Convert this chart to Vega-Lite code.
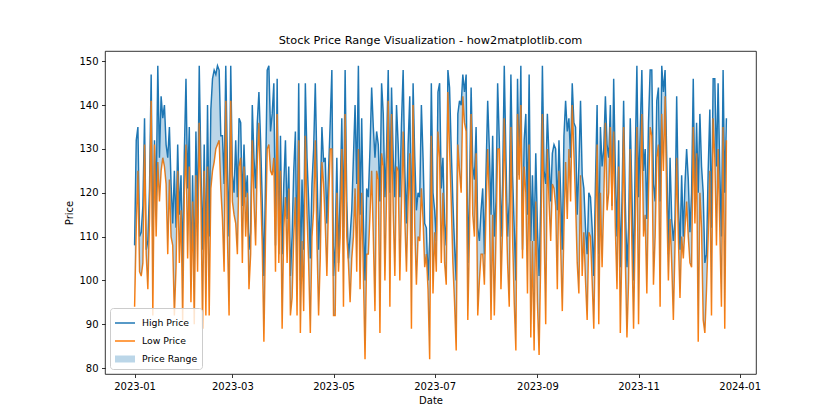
{
  "$schema": "https://vega.github.io/schema/vega-lite/v6.json",
  "width": 651,
  "height": 323,
  "autosize": {"type": "none"},
  "padding": {"left": 105, "top": 51, "right": 84, "bottom": 46},
  "background": "white",
  "title": {"text": "Stock Price Range Visualization - how2matplotlib.com", "fontSize": 11.3, "fontWeight": "normal", "font": "DejaVu Sans", "color": "black", "offset": 5},
  "config": {
    "view": {"stroke": "black", "strokeWidth": 0.8},
    "axis": {"domain": false, "grid": false, "tickColor": "black", "tickSize": 3.5, "tickWidth": 0.8, "labelColor": "black", "labelFont": "DejaVu Sans", "labelFontSize": 10, "labelPadding": 3.5, "titleFont": "DejaVu Sans", "titleFontSize": 10, "titleFontWeight": "normal", "titleColor": "black"}
  },
  "data": {"values": [
    {"d":"2023-01-01","h":108,"l":94},{"d":"2023-01-02","h":132,"l":112},{"d":"2023-01-03","h":135,"l":125},{"d":"2023-01-04","h":110,"l":102},{"d":"2023-01-05","h":111,"l":101},{"d":"2023-01-06","h":117,"l":104},{"d":"2023-01-07","h":137,"l":131},{"d":"2023-01-08","h":107,"l":106},{"d":"2023-01-09","h":109,"l":98},{"d":"2023-01-10","h":121,"l":114},{"d":"2023-01-11","h":147,"l":141},{"d":"2023-01-12","h":107,"l":92},{"d":"2023-01-13","h":132,"l":131},{"d":"2023-01-14","h":118,"l":110},{"d":"2023-01-15","h":149,"l":127},{"d":"2023-01-16","h":128,"l":118},{"d":"2023-01-17","h":142,"l":125},{"d":"2023-01-18","h":137,"l":128},{"d":"2023-01-19","h":140,"l":126},{"d":"2023-01-20","h":131,"l":122},{"d":"2023-01-21","h":128,"l":106},{"d":"2023-01-22","h":135,"l":123},{"d":"2023-01-23","h":122,"l":110},{"d":"2023-01-24","h":113,"l":108},{"d":"2023-01-25","h":125,"l":92},{"d":"2023-01-26","h":112,"l":103},{"d":"2023-01-27","h":131,"l":125},{"d":"2023-01-28","h":115,"l":104},{"d":"2023-01-29","h":124,"l":116},{"d":"2023-01-30","h":103,"l":91},{"d":"2023-01-31","h":129,"l":120},
    {"d":"2023-02-01","h":146,"l":131},{"d":"2023-02-02","h":121,"l":105},{"d":"2023-02-03","h":135,"l":126},{"d":"2023-02-04","h":101,"l":95},{"d":"2023-02-05","h":124,"l":118},{"d":"2023-02-06","h":101,"l":90},{"d":"2023-02-07","h":134,"l":124},{"d":"2023-02-08","h":113,"l":102},{"d":"2023-02-09","h":149,"l":136},{"d":"2023-02-10","h":126,"l":119},{"d":"2023-02-11","h":107,"l":89},{"d":"2023-02-12","h":131,"l":125},{"d":"2023-02-13","h":104,"l":92},{"d":"2023-02-14","h":140,"l":126},{"d":"2023-02-15","h":110,"l":92},{"d":"2023-02-16","h":139,"l":121},{"d":"2023-02-17","h":146,"l":125},{"d":"2023-02-18","h":148,"l":127},{"d":"2023-02-19","h":147,"l":130},{"d":"2023-02-20","h":149,"l":131},{"d":"2023-02-21","h":148,"l":132},{"d":"2023-02-22","h":133,"l":121},{"d":"2023-02-23","h":133,"l":114},{"d":"2023-02-24","h":122,"l":102},{"d":"2023-02-25","h":149,"l":141},{"d":"2023-02-26","h":126,"l":110},{"d":"2023-02-27","h":110,"l":92},{"d":"2023-02-28","h":149,"l":141},
    {"d":"2023-03-01","h":124,"l":118},{"d":"2023-03-02","h":120,"l":115},{"d":"2023-03-03","h":132,"l":113},{"d":"2023-03-04","h":119,"l":106},{"d":"2023-03-05","h":137,"l":126},{"d":"2023-03-06","h":136,"l":128},{"d":"2023-03-07","h":117,"l":104},{"d":"2023-03-08","h":131,"l":126},{"d":"2023-03-09","h":119,"l":110},{"d":"2023-03-10","h":124,"l":120},{"d":"2023-03-11","h":107,"l":98},{"d":"2023-03-12","h":111,"l":106},{"d":"2023-03-13","h":140,"l":132},{"d":"2023-03-14","h":128,"l":118},{"d":"2023-03-15","h":121,"l":108},{"d":"2023-03-16","h":136,"l":127},{"d":"2023-03-17","h":143,"l":136},{"d":"2023-03-18","h":132,"l":121},{"d":"2023-03-19","h":118,"l":108},{"d":"2023-03-20","h":101,"l":86},{"d":"2023-03-21","h":123,"l":111},{"d":"2023-03-22","h":148,"l":130},{"d":"2023-03-23","h":149,"l":131},{"d":"2023-03-24","h":134,"l":125},{"d":"2023-03-25","h":138,"l":124},{"d":"2023-03-26","h":145,"l":128},{"d":"2023-03-27","h":108,"l":102},{"d":"2023-03-28","h":146,"l":138},{"d":"2023-03-29","h":106,"l":104},{"d":"2023-03-30","h":133,"l":125},{"d":"2023-03-31","h":106,"l":89},
    {"d":"2023-04-01","h":122,"l":112},{"d":"2023-04-02","h":132,"l":119},{"d":"2023-04-03","h":114,"l":104},{"d":"2023-04-04","h":126,"l":121},{"d":"2023-04-05","h":101,"l":92},{"d":"2023-04-06","h":110,"l":96},{"d":"2023-04-07","h":125,"l":110},{"d":"2023-04-08","h":134,"l":119},{"d":"2023-04-09","h":104,"l":92},{"d":"2023-04-10","h":145,"l":132},{"d":"2023-04-11","h":100,"l":88},{"d":"2023-04-12","h":123,"l":109},{"d":"2023-04-13","h":107,"l":93},{"d":"2023-04-14","h":145,"l":133},{"d":"2023-04-15","h":128,"l":115},{"d":"2023-04-16","h":118,"l":104},{"d":"2023-04-17","h":105,"l":88},{"d":"2023-04-18","h":122,"l":110},{"d":"2023-04-19","h":130,"l":116},{"d":"2023-04-20","h":145,"l":132},{"d":"2023-04-21","h":126,"l":109},{"d":"2023-04-22","h":107,"l":92},{"d":"2023-04-23","h":118,"l":105},{"d":"2023-04-24","h":135,"l":127},{"d":"2023-04-25","h":127,"l":122},{"d":"2023-04-26","h":128,"l":113},{"d":"2023-04-27","h":113,"l":101},{"d":"2023-04-28","h":125,"l":118},{"d":"2023-04-29","h":136,"l":130},{"d":"2023-04-30","h":148,"l":130},
    {"d":"2023-05-01","h":101,"l":92},{"d":"2023-05-02","h":108,"l":92},{"d":"2023-05-03","h":128,"l":120},{"d":"2023-05-04","h":104,"l":102},{"d":"2023-05-05","h":120,"l":110},{"d":"2023-05-06","h":137,"l":130},{"d":"2023-05-07","h":112,"l":94},{"d":"2023-05-08","h":148,"l":138},{"d":"2023-05-09","h":118,"l":110},{"d":"2023-05-10","h":105,"l":104},{"d":"2023-05-11","h":110,"l":95},{"d":"2023-05-12","h":116,"l":105},{"d":"2023-05-13","h":128,"l":110},{"d":"2023-05-14","h":140,"l":121},{"d":"2023-05-15","h":122,"l":102},{"d":"2023-05-16","h":149,"l":130},{"d":"2023-05-17","h":115,"l":98},{"d":"2023-05-18","h":137,"l":120},{"d":"2023-05-19","h":114,"l":102},{"d":"2023-05-20","h":100,"l":82},{"d":"2023-05-21","h":121,"l":106},{"d":"2023-05-22","h":119,"l":106},{"d":"2023-05-23","h":130,"l":115},{"d":"2023-05-24","h":144,"l":125},{"d":"2023-05-25","h":135,"l":110},{"d":"2023-05-26","h":128,"l":93},{"d":"2023-05-27","h":134,"l":125},{"d":"2023-05-28","h":131,"l":123},{"d":"2023-05-29","h":118,"l":88},{"d":"2023-05-30","h":145,"l":129},{"d":"2023-05-31","h":138,"l":126},
    {"d":"2023-06-01","h":119,"l":100},{"d":"2023-06-02","h":130,"l":120},{"d":"2023-06-03","h":148,"l":141},{"d":"2023-06-04","h":120,"l":94},{"d":"2023-06-05","h":144,"l":138},{"d":"2023-06-06","h":128,"l":116},{"d":"2023-06-07","h":119,"l":101},{"d":"2023-06-08","h":140,"l":126},{"d":"2023-06-09","h":131,"l":125},{"d":"2023-06-10","h":119,"l":100},{"d":"2023-06-11","h":136,"l":118},{"d":"2023-06-12","h":148,"l":134},{"d":"2023-06-13","h":125,"l":114},{"d":"2023-06-14","h":113,"l":102},{"d":"2023-06-15","h":131,"l":118},{"d":"2023-06-16","h":142,"l":129},{"d":"2023-06-17","h":108,"l":89},{"d":"2023-06-18","h":145,"l":140},{"d":"2023-06-19","h":128,"l":112},{"d":"2023-06-20","h":116,"l":99},{"d":"2023-06-21","h":120,"l":110},{"d":"2023-06-22","h":119,"l":109},{"d":"2023-06-23","h":140,"l":121},{"d":"2023-06-24","h":128,"l":114},{"d":"2023-06-25","h":113,"l":103},{"d":"2023-06-26","h":112,"l":106},{"d":"2023-06-27","h":100,"l":98},{"d":"2023-06-28","h":109,"l":82},{"d":"2023-06-29","h":145,"l":133},{"d":"2023-06-30","h":120,"l":97},
    {"d":"2023-07-01","h":116,"l":111},{"d":"2023-07-02","h":109,"l":102},{"d":"2023-07-03","h":143,"l":134},{"d":"2023-07-04","h":145,"l":128},{"d":"2023-07-05","h":121,"l":104},{"d":"2023-07-06","h":128,"l":120},{"d":"2023-07-07","h":113,"l":104},{"d":"2023-07-08","h":108,"l":99},{"d":"2023-07-09","h":148,"l":143},{"d":"2023-07-10","h":144,"l":130},{"d":"2023-07-11","h":130,"l":118},{"d":"2023-07-12","h":118,"l":104},{"d":"2023-07-13","h":108,"l":95},{"d":"2023-07-14","h":100,"l":84},{"d":"2023-07-15","h":138,"l":131},{"d":"2023-07-16","h":141,"l":125},{"d":"2023-07-17","h":140,"l":120},{"d":"2023-07-18","h":147,"l":142},{"d":"2023-07-19","h":143,"l":136},{"d":"2023-07-20","h":147,"l":134},{"d":"2023-07-21","h":104,"l":91},{"d":"2023-07-22","h":120,"l":110},{"d":"2023-07-23","h":144,"l":138},{"d":"2023-07-24","h":126,"l":115},{"d":"2023-07-25","h":123,"l":110},{"d":"2023-07-26","h":135,"l":129},{"d":"2023-07-27","h":112,"l":92},{"d":"2023-07-28","h":109,"l":100},{"d":"2023-07-29","h":116,"l":106},{"d":"2023-07-30","h":121,"l":106},{"d":"2023-07-31","h":106,"l":99},
    {"d":"2023-08-01","h":125,"l":116},{"d":"2023-08-02","h":141,"l":130},{"d":"2023-08-03","h":130,"l":118},{"d":"2023-08-04","h":115,"l":91},{"d":"2023-08-05","h":133,"l":115},{"d":"2023-08-06","h":110,"l":92},{"d":"2023-08-07","h":118,"l":110},{"d":"2023-08-08","h":145,"l":130},{"d":"2023-08-09","h":132,"l":130},{"d":"2023-08-10","h":110,"l":98},{"d":"2023-08-11","h":122,"l":112},{"d":"2023-08-12","h":149,"l":137},{"d":"2023-08-13","h":128,"l":118},{"d":"2023-08-14","h":110,"l":104},{"d":"2023-08-15","h":118,"l":94},{"d":"2023-08-16","h":147,"l":135},{"d":"2023-08-17","h":124,"l":110},{"d":"2023-08-18","h":112,"l":95},{"d":"2023-08-19","h":100,"l":84},{"d":"2023-08-20","h":146,"l":138},{"d":"2023-08-21","h":124,"l":123},{"d":"2023-08-22","h":149,"l":140},{"d":"2023-08-23","h":107,"l":105},{"d":"2023-08-24","h":132,"l":126},{"d":"2023-08-25","h":138,"l":120},{"d":"2023-08-26","h":115,"l":97},{"d":"2023-08-27","h":147,"l":131},{"d":"2023-08-28","h":109,"l":87},{"d":"2023-08-29","h":124,"l":109},{"d":"2023-08-30","h":109,"l":84},{"d":"2023-08-31","h":129,"l":118},
    {"d":"2023-09-01","h":112,"l":95},{"d":"2023-09-02","h":101,"l":83},{"d":"2023-09-03","h":118,"l":105},{"d":"2023-09-04","h":149,"l":138},{"d":"2023-09-05","h":125,"l":112},{"d":"2023-09-06","h":122,"l":90},{"d":"2023-09-07","h":138,"l":130},{"d":"2023-09-08","h":128,"l":118},{"d":"2023-09-09","h":118,"l":109},{"d":"2023-09-10","h":129,"l":122},{"d":"2023-09-11","h":131,"l":121},{"d":"2023-09-12","h":130,"l":117},{"d":"2023-09-13","h":116,"l":98},{"d":"2023-09-14","h":132,"l":125},{"d":"2023-09-15","h":120,"l":108},{"d":"2023-09-16","h":107,"l":93},{"d":"2023-09-17","h":133,"l":112},{"d":"2023-09-18","h":141,"l":127},{"d":"2023-09-19","h":134,"l":114},{"d":"2023-09-20","h":137,"l":130},{"d":"2023-09-21","h":128,"l":118},{"d":"2023-09-22","h":145,"l":140},{"d":"2023-09-23","h":136,"l":129},{"d":"2023-09-24","h":135,"l":118},{"d":"2023-09-25","h":115,"l":104},{"d":"2023-09-26","h":126,"l":97},{"d":"2023-09-27","h":141,"l":124},{"d":"2023-09-28","h":124,"l":101},{"d":"2023-09-29","h":121,"l":111},{"d":"2023-09-30","h":112,"l":100},
    {"d":"2023-10-01","h":106,"l":91},{"d":"2023-10-02","h":120,"l":111},{"d":"2023-10-03","h":119,"l":110},{"d":"2023-10-04","h":112,"l":100},{"d":"2023-10-05","h":101,"l":89},{"d":"2023-10-06","h":122,"l":112},{"d":"2023-10-07","h":140,"l":131},{"d":"2023-10-08","h":106,"l":90},{"d":"2023-10-09","h":135,"l":120},{"d":"2023-10-10","h":126,"l":103},{"d":"2023-10-11","h":130,"l":118},{"d":"2023-10-12","h":142,"l":136},{"d":"2023-10-13","h":131,"l":116},{"d":"2023-10-14","h":128,"l":120},{"d":"2023-10-15","h":140,"l":135},{"d":"2023-10-16","h":117,"l":116},{"d":"2023-10-17","h":146,"l":134},{"d":"2023-10-18","h":125,"l":112},{"d":"2023-10-19","h":110,"l":98},{"d":"2023-10-20","h":132,"l":126},{"d":"2023-10-21","h":103,"l":88},{"d":"2023-10-22","h":118,"l":108},{"d":"2023-10-23","h":141,"l":135},{"d":"2023-10-24","h":118,"l":105},{"d":"2023-10-25","h":103,"l":87},{"d":"2023-10-26","h":112,"l":100},{"d":"2023-10-27","h":137,"l":130},{"d":"2023-10-28","h":120,"l":108},{"d":"2023-10-29","h":100,"l":89},{"d":"2023-10-30","h":128,"l":112},{"d":"2023-10-31","h":149,"l":135},
    {"d":"2023-11-01","h":119,"l":90},{"d":"2023-11-02","h":134,"l":120},{"d":"2023-11-03","h":148,"l":138},{"d":"2023-11-04","h":125,"l":110},{"d":"2023-11-05","h":130,"l":115},{"d":"2023-11-06","h":114,"l":97},{"d":"2023-11-07","h":136,"l":120},{"d":"2023-11-08","h":148,"l":135},{"d":"2023-11-09","h":148,"l":133},{"d":"2023-11-10","h":122,"l":99},{"d":"2023-11-11","h":118,"l":110},{"d":"2023-11-12","h":141,"l":128},{"d":"2023-11-13","h":144,"l":131},{"d":"2023-11-14","h":118,"l":94},{"d":"2023-11-15","h":149,"l":138},{"d":"2023-11-16","h":143,"l":125},{"d":"2023-11-17","h":148,"l":142},{"d":"2023-11-18","h":128,"l":118},{"d":"2023-11-19","h":106,"l":100},{"d":"2023-11-20","h":128,"l":114},{"d":"2023-11-21","h":114,"l":104},{"d":"2023-11-22","h":109,"l":91},{"d":"2023-11-23","h":114,"l":108},{"d":"2023-11-24","h":142,"l":128},{"d":"2023-11-25","h":118,"l":110},{"d":"2023-11-26","h":107,"l":96},{"d":"2023-11-27","h":124,"l":110},{"d":"2023-11-28","h":110,"l":105},{"d":"2023-11-29","h":122,"l":112},{"d":"2023-11-30","h":130,"l":118},
    {"d":"2023-12-01","h":123,"l":110},{"d":"2023-12-02","h":111,"l":104},{"d":"2023-12-03","h":120,"l":103},{"d":"2023-12-04","h":146,"l":135},{"d":"2023-12-05","h":118,"l":113},{"d":"2023-12-06","h":136,"l":129},{"d":"2023-12-07","h":120,"l":86},{"d":"2023-12-08","h":138,"l":120},{"d":"2023-12-09","h":126,"l":112},{"d":"2023-12-10","h":120,"l":91},{"d":"2023-12-11","h":104,"l":88},{"d":"2023-12-12","h":106,"l":98},{"d":"2023-12-13","h":125,"l":110},{"d":"2023-12-14","h":139,"l":125},{"d":"2023-12-15","h":112,"l":92},{"d":"2023-12-16","h":146,"l":137},{"d":"2023-12-17","h":146,"l":128},{"d":"2023-12-18","h":126,"l":108},{"d":"2023-12-19","h":145,"l":130},{"d":"2023-12-20","h":125,"l":112},{"d":"2023-12-21","h":110,"l":94},{"d":"2023-12-22","h":148,"l":135},{"d":"2023-12-23","h":120,"l":89},{"d":"2023-12-24","h":137,"l":132}
  ]},
  "encoding": {
    "x": {"field": "d", "type": "temporal", "title": "Date",
      "scale": {"type": "utc", "domain": [{"year": 2022, "month": 12, "date": 14, "hours": 3, "minutes": 36, "utc": true}, {"year": 2024, "month": 1, "date": 10, "hours": 20, "minutes": 24, "utc": true}]},
      "axis": {"format": "%Y-%m", "titlePadding": 4, "labelAngle": 0,
        "values": [{"year": 2023, "month": 1, "date": 1, "utc": true}, {"year": 2023, "month": 3, "date": 1, "utc": true}, {"year": 2023, "month": 5, "date": 1, "utc": true}, {"year": 2023, "month": 7, "date": 1, "utc": true}, {"year": 2023, "month": 9, "date": 1, "utc": true}, {"year": 2023, "month": 11, "date": 1, "utc": true}, {"year": 2024, "month": 1, "date": 1, "utc": true}]}}
  },
  "layer": [
    {"mark": {"type": "line", "strokeWidth": 1.46, "clip": true},
     "encoding": {
       "y": {"field": "h", "type": "quantitative", "title": "Price", "scale": {"domain": [78.65, 152.35], "nice": false, "zero": false}, "axis": {"values": [80, 90, 100, 110, 120, 130, 140, 150], "titlePadding": 4}},
       "color": {"datum": "High Price", "type": "nominal",
         "scale": {"domain": ["High Price", "Low Price", "Price Range"], "range": ["#1f77b4", "#ff7f0e", "#1f77b4"]},
         "legend": {"title": null, "orient": "bottom-left", "offset": 5, "fillColor": "rgba(255,255,255,0.8)", "strokeColor": "#cccccc", "cornerRadius": 3, "padding": 4, "labelFont": "DejaVu Sans", "labelFontSize": 9.3, "labelColor": "black", "symbolSize": 400, "labelOffset": 6, "rowPadding": 1,
           "encode": {"symbols": {"update": {
             "shape": {"signal": "datum.value === 'Price Range' ? 'M-1,-0.35H1V0.35H-1Z' : 'M-1,0H1'"},
             "fill": {"value": "#1f77b4"},
             "fillOpacity": {"signal": "datum.value === 'Price Range' ? 0.3 : 0"},
             "stroke": {"signal": "datum.value === 'Low Price' ? '#ff7f0e' : '#1f77b4'"},
             "strokeOpacity": {"signal": "datum.value === 'Price Range' ? 0 : 1"},
             "strokeWidth": {"value": 1.5},
             "opacity": {"value": 1}
           }}}}}
     }},
    {"mark": {"type": "line", "strokeWidth": 1.46, "clip": true},
     "encoding": {
       "y": {"field": "l", "type": "quantitative"},
       "color": {"datum": "Low Price", "type": "nominal"}
     }},
    {"mark": {"type": "area", "opacity": 0.3, "clip": true},
     "encoding": {
       "y": {"field": "l", "type": "quantitative"},
       "y2": {"field": "h"},
       "color": {"datum": "Price Range", "type": "nominal"}
     }}
  ]
}
